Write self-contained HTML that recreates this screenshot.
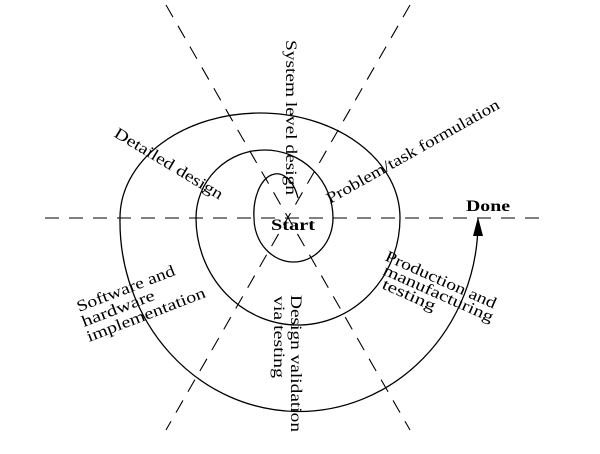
<!DOCTYPE html>
<html><head><meta charset="utf-8"><style>
html,body{margin:0;padding:0;background:#fff;}
svg{display:block;}
text{font-family:"Liberation Serif",serif;font-size:16px;fill:#000;}
</style></head><body>
<svg width="600" height="454" viewBox="0 0 600 454" xmlns="http://www.w3.org/2000/svg">
<g stroke="#000" stroke-width="1.1" fill="none" stroke-dasharray="14,10">
<line x1="45" y1="218" x2="540" y2="218"/>
<line x1="166" y1="5" x2="410" y2="430"/>
<line x1="410" y1="5" x2="166" y2="430"/>
</g>
<path d="M 298,198 A 23 40 0 0 0 254,218 A 39.5 44 0 0 0 333,218 A 68.5 68 0 0 0 196,218 A 102 107 0 0 0 400,218 A 140 105 0 0 0 120,218 A 179 190 0 0 0 478,225" stroke="#000" stroke-width="1.3" fill="none"/>
<path d="M478,217 L473,236 L483,236 Z" fill="#000"/>
<text x="271" y="230" font-weight="bold" textLength="44" lengthAdjust="spacingAndGlyphs">Start</text>
<text x="466" y="211" font-weight="bold" textLength="44" lengthAdjust="spacingAndGlyphs">Done</text>
<text transform="translate(286,40) rotate(90)" textLength="155" lengthAdjust="spacingAndGlyphs">System level design</text>
<text transform="translate(330,204) rotate(-29.4)" textLength="196" lengthAdjust="spacingAndGlyphs">Problem/task formulation</text>
<text transform="translate(113,136) rotate(31)" textLength="124" lengthAdjust="spacingAndGlyphs">Detailed design</text>
<text transform="translate(79,312) rotate(-21)" textLength="104" lengthAdjust="spacingAndGlyphs">Software and</text>
<text transform="translate(84,327) rotate(-21)" textLength="77" lengthAdjust="spacingAndGlyphs">hardware</text>
<text transform="translate(89,342) rotate(-21)" textLength="126" lengthAdjust="spacingAndGlyphs">implementation</text>
<text transform="translate(384,260) rotate(24)" textLength="120" lengthAdjust="spacingAndGlyphs">Production and</text>
<text transform="translate(382,274) rotate(24)" textLength="119" lengthAdjust="spacingAndGlyphs">manufacturing</text>
<text transform="translate(381,288) rotate(24)" textLength="57" lengthAdjust="spacingAndGlyphs">testing</text>
<text transform="translate(291,295) rotate(90)" textLength="137" lengthAdjust="spacingAndGlyphs">Design validation</text>
<text transform="translate(274,296) rotate(90)" textLength="82" lengthAdjust="spacingAndGlyphs">via testing</text>
</svg>
</body></html>
